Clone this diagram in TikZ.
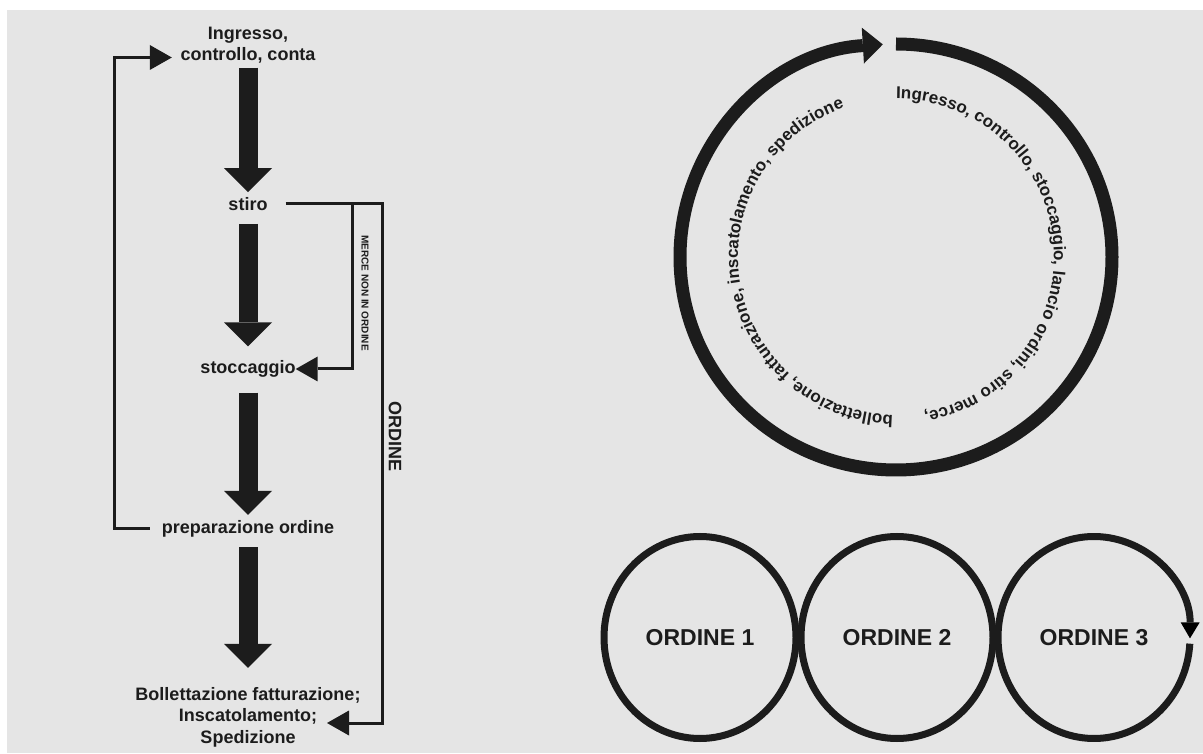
\documentclass[tikz,border=0pt]{standalone}
\usepackage{fontspec}
\setmainfont{Liberation Sans}
\usetikzlibrary{arrows.meta, decorations.text}
\definecolor{ink}{RGB}{28,28,28}
\definecolor{paper}{RGB}{229,229,229}
\newcommand{\ringfont}{\bfseries\fontsize{17}{17}\selectfont}

\begin{document}
\begin{tikzpicture}[x=1pt, y=1pt,
	flowtext/.style = {font=\bfseries\fontsize{18}{21.5}\selectfont, text=ink, inner sep=0pt, align=center},
	bigarrow/.style = {draw=ink, line width=19pt, -{Triangle[length=24pt, width=48pt, line width=0pt]}},
	backline/.style = {draw=ink, line width=3pt, -{Triangle[length=22pt, width=25pt, line width=0pt]}},
	orderring/.style = {draw=ink, line width=7pt},
	ordertext/.style = {font=\bfseries\fontsize{23}{23}\selectfont, text=ink, inner sep=0pt}]
	\useasboundingbox (0,0) rectangle (1203,753);
	\fill[paper] (7,0) rectangle (1203,743);

	\node[flowtext] (ingresso) at (248,708) {Ingresso,\\controllo, conta};
	\node[flowtext] (stiro) at (248,549) {stiro};
	\node[flowtext] (stocc) at (248,384) {stoccaggio};
	\node[flowtext] (prep) at (248,224.5) {preparazione ordine};
	\node[flowtext] (bolle) at (248,36) {Bollettazione fatturazione;\\Inscatolamento;\\Spedizione};
	\draw[bigarrow, shorten <=4pt, shorten >=5pt] (ingresso) -- (stiro);
	\draw[bigarrow, shorten <=13pt, shorten >=14pt] (stiro) -- (stocc);
	\draw[bigarrow, shorten <=15pt, shorten >=5pt] (stocc) -- (prep);
	\draw[bigarrow, shorten <=10pt, shorten >=19pt] (prep) -- (bolle);
	\draw[backline, shorten <=12pt, shorten >=8.5pt] (prep.west) -- ++(-47,0) |- ([yshift=-12.5pt]ingresso.west);
	\draw[backline, shorten <=18pt] (stiro.east) -- ++(84.5,0) coordinate (split) -- ++(30,0) |- ([xshift=79pt, yshift=-6pt]bolle.center);
	\draw[backline] (split) |- (stocc.east);
	\node[flowtext, font=\bfseries\fontsize{10}{10}\selectfont, rotate=-90] (merce) at (365,460) {MERCE NON IN ORDINE};
	\node[flowtext, rotate=-90] (ordine) at (395,316) {ORDINE};

	\coordinate (hub) at (896,496);
	\draw[draw=ink, line width=13pt, -{Triangle[length=20pt, width=36pt, line width=0pt]}] ([shift={(90:216 and 213)}]hub) arc[start angle=90, end angle=-266.5, x radius=216, y radius=213];
	\path[decorate, decoration={text along path, text color=ink, text={|\ringfont|Ingresso, controllo, stoccaggio, lancio ordini, stiro merce,}}] ([shift={(90:158)}]hub) arc[start angle=90, end angle=-100, radius=158];
	\path[decorate, decoration={text along path, text color=ink, text={|\ringfont|bollettazione, fatturazione, inscatolamento, spedizione}}] ([shift={(-91:158)}]hub) arc[start angle=-91, end angle=-280, radius=158];

	\node[ordertext] (o1) at (700,115.5) {ORDINE 1};
	\node[ordertext] (o2) at (897,115.5) {ORDINE 2};
	\node[ordertext] (o3) at (1094,115.5) {ORDINE 3};
	\draw[orderring] (o1.center) ellipse [x radius=96, y radius=101];
	\draw[orderring] (o2.center) ellipse [x radius=96, y radius=101];
	\draw[orderring, -{Triangle[length=16pt, width=19pt, line width=0pt]}] ([shift={(-3.5:96 and 101)}]o3.center) arc[start angle=-3.5, end angle=-360.5, x radius=96, y radius=101];
\end{tikzpicture}
\end{document}
